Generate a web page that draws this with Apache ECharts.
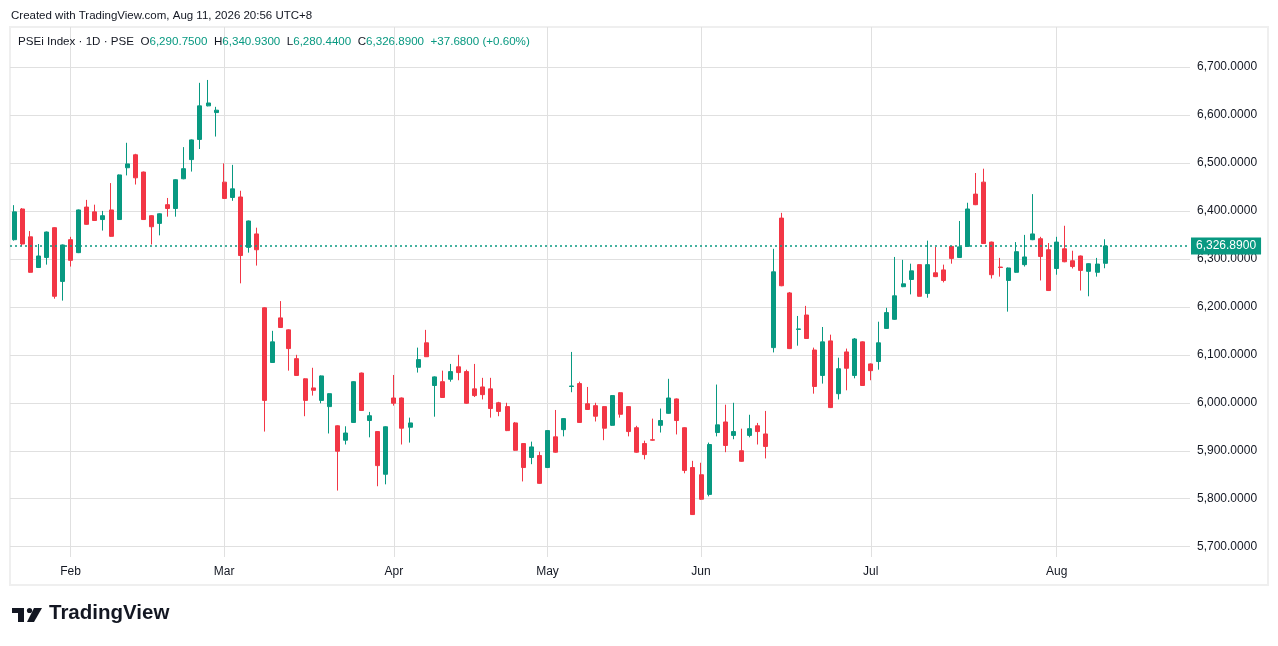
<!DOCTYPE html>
<html>
<head>
<meta charset="utf-8">
<title>PSEi Index 1D</title>
<script src="https://cdn.jsdelivr.net/npm/echarts@6/dist/echarts.min.js"></script>
<style>
  html, body { margin: 0; padding: 0; background: #fff; }
  #chart { width: 1278px; height: 646px; }
</style>
</head>
<body>
<div id="chart"></div>
<script>
// trading days per month (2026)
var janDays = [22, 23, 26, 27, 28, 29, 30];
var febDays = [2, 3, 4, 5, 6, 9, 10, 11, 12, 13, 16, 18, 19, 20, 23, 24, 25, 26, 27];
var marDays = [2, 3, 4, 5, 6, 9, 10, 11, 12, 13, 16, 17, 18, 19, 23, 24, 25, 26, 27, 30, 31];
var aprDays = [1, 6, 7, 8, 10, 13, 14, 15, 16, 17, 20, 21, 22, 23, 24, 27, 28, 29, 30];
var mayDays = [4, 5, 6, 7, 8, 11, 12, 13, 14, 15, 18, 19, 20, 21, 22, 25, 26, 28, 29];
var junDays = [1, 2, 3, 4, 5, 8, 9, 10, 11, 15, 16, 17, 18, 19, 22, 23, 24, 25, 26, 29, 30];
var julDays = [1, 2, 3, 6, 7, 8, 9, 10, 13, 14, 15, 16, 17, 20, 21, 22, 23, 24, 27, 28, 29, 30, 31];
var augDays = [3, 4, 5, 6, 7, 10, 11];
var monthNames = ['Jan', 'Feb', 'Mar', 'Apr', 'May', 'Jun', 'Jul', 'Aug'];

// bars: [open, close, low, high]
var janBars = [
  [6340, 6398, 6338, 6412], [6404, 6331, 6327, 6406], [6346, 6272, 6271, 6358], [6282, 6306, 6281, 6331],
  [6303, 6356, 6288, 6357], [6365, 6222, 6217, 6366], [6253, 6329, 6213, 6330]
];
var febBars = [
  [6340, 6297, 6284, 6346], [6313, 6402, 6312, 6403], [6408, 6372, 6371, 6423], [6398, 6380, 6379, 6413],
  [6382, 6390, 6359, 6400], [6402, 6347, 6346, 6458], [6382, 6475, 6381, 6476], [6490, 6498, 6474, 6542],
  [6517, 6469, 6455, 6519], [6481, 6382, 6381, 6482], [6390, 6367, 6330, 6391], [6374, 6394, 6349, 6395],
  [6413, 6405, 6388, 6427], [6405, 6465, 6388, 6466], [6467, 6488, 6466, 6533], [6507, 6548, 6482, 6549],
  [6549, 6619, 6529, 6667], [6619, 6625, 6618, 6673], [6605, 6610, 6555, 6617]
];
var marBars = [
  [6460, 6426, 6425, 6499], [6428, 6446, 6421, 6496], [6429, 6307, 6249, 6442], [6324, 6379, 6313, 6380],
  [6352, 6319, 6286, 6365], [6198, 6005, 5940, 6199], [6084, 6127, 6083, 6150], [6177, 6157, 6156, 6212],
  [6152, 6113, 6067, 6153], [6092, 6057, 6056, 6100], [6050, 6005, 5972, 6051], [6031, 6026, 6015, 6073],
  [6005, 6056, 5999, 6057], [5992, 6019, 5936, 6020], [5952, 5899, 5817, 5953], [5922, 5937, 5913, 5951],
  [5959, 6044, 5958, 6045], [6062, 5984, 5983, 6063], [5963, 5973, 5928, 5981], [5940, 5869, 5826, 5941],
  [5851, 5950, 5830, 5951]
];
var aprBars = [
  [6010, 5999, 5994, 6058], [6010, 5947, 5913, 6011], [5949, 5958, 5917, 5969], [6074, 6090, 6063, 6115],
  [6125, 6096, 6096, 6152], [6036, 6054, 5971, 6055], [6044, 6011, 6010, 6067], [6049, 6065, 6044, 6081],
  [6075, 6063, 6047, 6100], [6065, 5999, 5998, 6069], [6029, 6015, 6012, 6081], [6033, 6017, 6007, 6052],
  [6029, 5988, 5969, 6052], [6000, 5982, 5972, 6002], [5992, 5942, 5941, 6000], [5958, 5901, 5900, 5960],
  [5915, 5865, 5836, 5916], [5886, 5908, 5872, 5919], [5890, 5832, 5831, 5898]
];
var mayBars = [
  [5865, 5942, 5864, 5943], [5929, 5897, 5896, 5985], [5944, 5967, 5930, 5968], [6034, 6035, 6022, 6106],
  [6040, 5959, 5958, 6044], [5998, 5986, 5985, 6033], [5994, 5972, 5961, 6000], [5992, 5947, 5922, 5993],
  [5953, 6015, 5952, 6016], [6021, 5976, 5969, 6022], [5992, 5940, 5930, 5993], [5948, 5897, 5896, 5952],
  [5915, 5892, 5882, 5921], [5923, 5922, 5921, 5967], [5953, 5963, 5938, 5988], [5978, 6010, 5977, 6050],
  [6008, 5963, 5934, 6009], [5948, 5859, 5853, 5949], [5865, 5767, 5766, 5879]
];
var junBars = [
  [5850, 5799, 5798, 5875], [5809, 5913, 5805, 5917], [5938, 5954, 5930, 6038], [5960, 5911, 5897, 5996],
  [5932, 5940, 5924, 6000], [5900, 5878, 5877, 5946], [5932, 5946, 5928, 5975], [5952, 5940, 5913, 5958],
  [5935, 5909, 5884, 5983], [6115, 6273, 6105, 6321], [6385, 6244, 6243, 6396], [6229, 6113, 6112, 6231],
  [6153, 6154, 6119, 6181], [6183, 6134, 6133, 6202], [6110, 6034, 6019, 6115], [6057, 6127, 6040, 6158],
  [6129, 5990, 5989, 6142], [6019, 6071, 6007, 6094], [6106, 6072, 6026, 6113], [6057, 6133, 6051, 6135],
  [6127, 6036, 6035, 6128]
];
var julBars = [
  [6081, 6067, 6047, 6082], [6086, 6125, 6069, 6169], [6155, 6188, 6154, 6198], [6174, 6223, 6173, 6304],
  [6242, 6248, 6241, 6298], [6257, 6275, 6226, 6290], [6288, 6222, 6221, 6289], [6228, 6288, 6219, 6338],
  [6271, 6263, 6262, 6325], [6277, 6255, 6251, 6288], [6326, 6301, 6290, 6327], [6303, 6325, 6302, 6379],
  [6326, 6404, 6325, 6417], [6435, 6413, 6412, 6479], [6460, 6332, 6331, 6488], [6335, 6267, 6259, 6336],
  [6283, 6282, 6263, 6302], [6255, 6281, 6190, 6282], [6272, 6315, 6271, 6335], [6288, 6304, 6284, 6350],
  [6340, 6352, 6339, 6435], [6342, 6305, 6255, 6346], [6319, 6234, 6233, 6333]
];
var augBars = [
  [6280, 6335, 6267, 6346], [6321, 6294, 6293, 6369], [6296, 6284, 6280, 6317], [6306, 6276, 6234, 6307],
  [6274, 6290, 6222, 6291], [6272, 6289.21, 6263, 6302], [6290.75, 6326.89, 6280.44, 6340.93]
];

var lastClose = 6326.89;
var upColor = '#089981';
var downColor = '#F23645';
var textColor = '#131722';
var gridColor = '#e0e0e0';

var monthDays = [janDays, febDays, marDays, aprDays, mayDays, junDays, julDays, augDays];
var monthBars = [janBars, febBars, marBars, aprBars, mayBars, junBars, julBars, augBars];

var dates = [];
var bars = [];
var monthStarts = {};
monthDays.forEach(function (days, m) {
  if (m > 0) monthStarts[dates.length] = monthNames[m];
  days.forEach(function (d) {
    dates.push('2026-' + String(m + 1).padStart(2, '0') + '-' + String(d).padStart(2, '0'));
  });
  bars = bars.concat(monthBars[m]);
});
// empty space to the right of the last bar
for (var i = 0; i < 10; i++) dates.push('');

function fmtPrice(v) {
  var parts = v.toFixed(4).split('.');
  return parts[0].replace(/\B(?=(\d{3})+(?!\d))/g, ',') + '.' + parts[1];
}

var font = 'Liberation Sans, Arial, sans-serif';
var chart = echarts.init(document.getElementById('chart'));

chart.setOption({
  animation: false,
  backgroundColor: '#ffffff',
  textStyle: { fontFamily: font },
  title: [
    {
      text: 'Created with TradingView.com, Aug 11, 2026 20:56 UTC+8',
      left: 6, top: 5,
      textStyle: { fontSize: 11.5, fontWeight: 'normal', color: textColor, fontFamily: font }
    },
    {
      text: '{d|PSEi Index · 1D · PSE}  {d|O}{g|6,290.7500}  {d|H}{g|6,340.9300}  {d|L}{g|6,280.4400}  {d|C}{g|6,326.8900}  {g|+37.6800 (+0.60%)}',
      left: 13, top: 31,
      textStyle: {
        fontSize: 11.6, fontWeight: 'normal', fontFamily: font,
        rich: {
          d: { color: textColor, fontSize: 11.6, fontFamily: font },
          g: { color: upColor, fontSize: 11.6, fontFamily: font }
        }
      }
    }
  ],
  grid: { left: 10, right: 88, top: 27, bottom: 89, containLabel: false, outerBoundsMode: 'none' },
  xAxis: {
    type: 'category',
    data: dates,
    boundaryGap: true,
    axisLine: { show: false },
    axisTick: { show: false },
    axisLabel: {
      interval: function (index) { return monthStarts[index] !== undefined; },
      formatter: function (value, index) { return monthStarts[index] || ''; },
      color: textColor, fontSize: 12, margin: 9
    },
    splitLine: {
      show: true,
      alignWithLabel: true,
      interval: function (index) { return monthStarts[index] !== undefined; },
      lineStyle: { color: gridColor, width: 1 }
    }
  },
  yAxis: {
    type: 'value',
    position: 'right',
    scale: true,
    min: 5678.5,
    max: 6783.4,
    splitNumber: 11,
    minInterval: 100,
    maxInterval: 100,
    axisLine: { show: false },
    axisTick: { show: false },
    axisLabel: {
      showMinLabel: false, showMaxLabel: false,
      color: textColor, fontSize: 12, margin: 7,
      formatter: function (v) { return fmtPrice(v); }
    },
    splitLine: {
      show: true, showMinLine: false, showMaxLine: false,
      lineStyle: { color: gridColor, width: 1 }
    }
  },
  graphic: [
    {
      type: 'rect', silent: true, z: -1,
      shape: { x: 10, y: 27, width: 1258, height: 558 },
      style: { fill: 'none', stroke: '#efefef', lineWidth: 2 }
    },
    // TradingView logo
    { type: 'rect', shape: { x: 12, y: 608, width: 12, height: 5 }, style: { fill: '#131722' } },
    { type: 'rect', shape: { x: 18, y: 608, width: 6, height: 14 }, style: { fill: '#131722' } },
    { type: 'circle', shape: { cx: 29.5, cy: 610.5, r: 2.6 }, style: { fill: '#131722' } },
    { type: 'polygon', shape: { points: [[34, 608], [42, 608], [34, 622], [27, 622]] }, style: { fill: '#131722' } },
    {
      type: 'text', left: 49, top: 603,
      style: { text: 'TradingView', fill: '#131722', font: 'bold 20.5px ' + font }
    }
  ],
  series: [{
    type: 'candlestick',
    data: bars,
    barWidth: 4.5,
    itemStyle: {
      color: upColor, color0: downColor,
      borderColor: upColor, borderColor0: downColor,
      borderWidth: 1
    },
    markLine: {
      silent: true,
      symbol: ['none', 'none'],
      data: [{ yAxis: lastClose }],
      lineStyle: { color: upColor, type: [2, 3], width: 1.5 },
      label: {
        show: true, position: 'end', distance: 1,
        formatter: fmtPrice(lastClose),
        color: '#ffffff', backgroundColor: upColor,
        padding: [3, 5, 2, 5], fontSize: 12, fontFamily: font
      }
    }
  }]
});
</script>
</body>
</html>
